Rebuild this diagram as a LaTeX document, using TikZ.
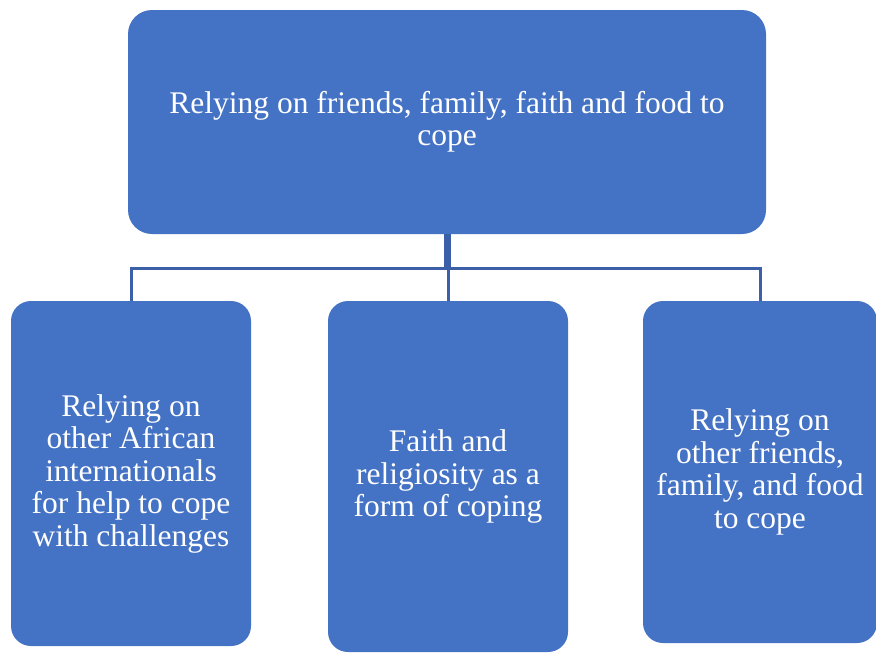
\documentclass[tikz,border=0pt]{standalone}
\usepackage{fontspec}
\setmainfont{Liberation Serif}
\definecolor{boxblue}{HTML}{4472C4}
\definecolor{lineblue}{HTML}{3B60A8}
\begin{document}
\begin{tikzpicture}[x=1pt,y=-1pt,
  box/.style={fill=boxblue, draw=none, text=white, align=center, font=\fontsize{31.5}{32.5}\selectfont, inner sep=0pt},
  conn/.style={draw=lineblue, line width=3pt}]
\useasboundingbox (0,0) rectangle (876,654);
\node[box, rounded corners=24pt, minimum width=638pt, minimum height=224pt] (top) at (447,122)
  {Relying on friends, family, faith and food to\\cope};
\node[box, rounded corners=20pt, minimum width=240pt, minimum height=345pt] (left) at (131,473.5)
  {Relying on\\other African\\internationals\\for help to cope\\with challenges};
\node[box, rounded corners=20pt, minimum width=240pt, minimum height=351pt] (mid) at (448,476.5)
  {Faith and\\religiosity as a\\form of coping};
\node[box, rounded corners=20pt, minimum width=234pt, minimum height=342pt] (right) at (760,472)
  {Relying on\\other friends,\\family, and food\\to cope};
\coordinate (bus) at (447,268);
\draw[conn] (left.north) -- (left.north |- bus) -- (right.north |- bus) -- (right.north);
\draw[conn] (mid.north) -- (mid.north |- bus);
\draw[conn, line width=7pt] (top.south) -- (top.south |- bus);
\end{tikzpicture}
\end{document}
